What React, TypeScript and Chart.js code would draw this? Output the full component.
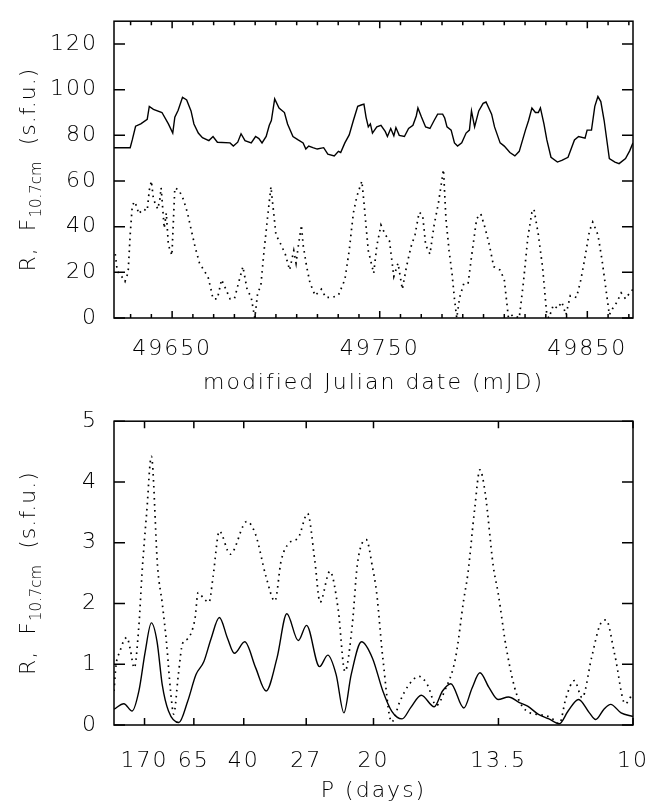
import React, { useEffect, useRef } from 'react';
import { Chart, registerables } from 'chart.js';
Chart.register(...registerables);

// ---------- Top panel: daily series vs modified Julian date ----------
const fluxMJD = [
  49622, 49629.8, 49630.8, 49632.4, 49634.9, 49638.0, 49639.0, 49641.0, 49645.1, 49648.2,
  49650.3, 49651.3, 49652.9, 49655.0, 49657.0, 49659.1, 49660.5, 49662.6, 49664.6, 49667.7,
  49669.7, 49671.8, 49677.9, 49679.5, 49681.6, 49683.2, 49685.1, 49688.1, 49690.2, 49691.8,
  49693.3, 49695.3, 49696.8, 49697.8, 49699.4, 49701.5, 49704.1, 49705.6, 49708.2, 49710.7,
  49713.1, 49714.4, 49715.8, 49717.8, 49719.9, 49723.0, 49725.0, 49728.1, 49730.1, 49731.2,
  49733.2, 49735.3, 49737.3, 49739.4, 49741.4, 49742.4, 49743.4, 49744.5, 49745.5, 49746.5,
  49748.6, 49750.6, 49752.7, 49753.7, 49755.3, 49756.8, 49757.8, 49759.4, 49761.9, 49763.9,
  49766.0, 49767.6, 49768.4, 49770.1, 49772.1, 49774.2, 49776.2, 49777.9, 49780.3, 49781.3,
  49782.4, 49784.4, 49786.0, 49787.5, 49789.5, 49791.6, 49793.2, 49794.2, 49795.7, 49797.7,
  49799.8, 49801.2, 49803.9, 49805.3, 49808.0, 49810.0, 49812.7, 49815.1, 49817.2, 49820.2,
  49821.7, 49823.3, 49825.0, 49826.4, 49827.4, 49829.1, 49830.5, 49832.5, 49835.6, 49837.7,
  49840.7, 49843.8, 49845.8, 49848.9, 49849.9, 49852.0, 49853.6, 49855.1, 49856.5, 49858.1,
  49860.6, 49863.3, 49865.3, 49868.4, 49870.4, 49872.0,
];
const fluxValues = [
  74.6, 74.6, 78, 84, 85, 87, 92.7, 91.4, 90, 85,
  81, 88, 91, 96.7, 95.5, 90.7, 85, 81, 79, 77.7,
  79.5, 77, 76.7, 75.3, 77, 80.7, 77.7, 76.7, 79.5, 78.6,
  76.7, 79.5, 84.4, 86.5, 96, 92, 90, 85, 79.5, 78,
  76.7, 74, 75.3, 74.6, 74, 74.6, 71.8, 71, 73, 72.5,
  76.7, 80.2, 86.5, 92.7, 93.4, 93.7, 88, 83.7, 85, 81,
  83.7, 84.4, 81.6, 79.5, 83, 79.8, 83.4, 80, 79.5, 83,
  84.4, 88.5, 92, 88, 83.7, 83, 86.5, 89.3, 89.3, 87.6,
  83.7, 82.3, 76.7, 75.3, 76.7, 81, 82.3, 90.7, 83.7, 90.7,
  94, 94.6, 89.3, 83.7, 76.7, 75.3, 72.5, 71, 73, 82.3,
  86.5, 92, 90, 90, 92, 85, 78, 70.4, 68.3, 69,
  70.4, 78, 79.5, 78.8, 82.3, 82.3, 92.7, 97, 94.8, 86.5,
  69.8, 68.3, 67.6, 69.8, 73.2, 76.7,
];

const sunspotMJD = [
  49622.6, 49623.6, 49625.7, 49627.3, 49628.8, 49629.8, 49630.8, 49631.8, 49632.9, 49633.9,
  49635.9, 49638.0, 49639.0, 49640.0, 49641.0, 49643.1, 49644.1, 49644.7, 49646.2, 49647.2,
  49648.2, 49649.9, 49651.3, 49653.3, 49655.4, 49657.4, 49659.1, 49661.1, 49663.2, 49665.2,
  49667.3, 49668.7, 49669.7, 49671.8, 49673.8, 49675.9, 49677.9, 49680.0, 49682.0, 49684.1,
  49686.1, 49688.1, 49689.8, 49691.2, 49692.7, 49694.3, 49695.9, 49697.6, 49698.4, 49700.0,
  49702.5, 49704.5, 49706.6, 49708.6, 49709.7, 49710.7, 49712.3, 49713.1, 49714.8, 49716.4,
  49718.9, 49721.9, 49724.0, 49727.1, 49730.1, 49733.2, 49735.3, 49737.3, 49739.0, 49741.4,
  49742.4, 49744.5, 49747.1, 49748.6, 49750.6, 49752.7, 49754.7, 49756.8, 49758.8, 49760.9,
  49762.9, 49765.0, 49767.0, 49769.0, 49770.7, 49772.1, 49774.2, 49776.2, 49778.3, 49780.7,
  49781.9, 49783.4, 49784.8, 49786.0, 49787.1, 49788.5, 49790.6, 49792.6, 49794.6, 49796.7,
  49798.7, 49800.8, 49802.8, 49804.9, 49808.0, 49810.0, 49811.0, 49812.0, 49814.1, 49817.2,
  49819.2, 49821.3, 49823.3, 49824.3, 49826.4, 49828.4, 49830.5, 49831.5, 49833.6, 49835.6,
  49837.7, 49839.7, 49841.8, 49844.8, 49846.9, 49848.9, 49851.0, 49852.6, 49855.1, 49857.1,
  49859.2, 49860.6, 49862.2, 49864.3, 49866.3, 49868.4, 49870.4, 49872.0,
];
const sunspotValues = [
  28, 20.4, 18.2, 16, 20, 36.5, 49, 51, 49, 45.6,
  47.7, 47, 56, 60, 52, 47.7, 52, 57, 39.3, 46,
  32, 27.4, 57, 56, 52, 46, 39, 31, 24, 21,
  18, 12.6, 8.4, 8.4, 16.8, 12.6, 8.4, 8.4, 15.4, 22.5,
  12.6, 9, 0, 11, 14, 29.5, 43.5, 57.5, 50.5, 36.5,
  32, 28, 21, 29.5, 24, 31, 40.7, 32, 22.5, 15.4,
  9.8, 12.6, 9, 9, 10, 16.8, 29.5, 46, 53.3, 60,
  50.5, 29.5, 19.6, 31.6, 40.7, 36.5, 33.7, 18.2, 24, 12.6,
  22.5, 31, 36.5, 46.3, 45, 32, 28, 40.7, 50.5, 65,
  43.5, 29.5, 19.6, 8.4, 0, 9, 15.4, 15.4, 29.5, 43.5,
  45.6, 39.3, 32, 22.5, 21, 16.8, 8.4, 0, 1.4, 0,
  15.4, 35, 46.3, 47.7, 36.5, 22.5, 1.4, 0, 5.6, 4.2,
  7, 1.4, 9.8, 9, 16.8, 26.7, 38, 42, 36.5, 25.3,
  11, 1.4, 4.2, 7, 11, 8.4, 11, 12.6,
];

const mjdTicks = [49650, 49750, 49850];
const mjdMinorTicks = [
  49630, 49640, 49660, 49670, 49680, 49690, 49700, 49710, 49720, 49730, 49740,
  49760, 49770, 49780, 49790, 49800, 49810, 49820, 49830, 49840, 49860, 49870,
];
const fluxAxisTicks = [0, 20, 40, 60, 80, 100, 120];

// ---------- Bottom panel: power vs frequency (1/P) ----------
const freqSolid = [
  0, 0.0019, 0.0035, 0.0048, 0.006, 0.0072, 0.0083, 0.0093, 0.0105, 0.0125,
  0.0142, 0.0158, 0.0173, 0.0187, 0.0203, 0.0219, 0.0232, 0.0252, 0.0273, 0.0293,
  0.0314, 0.0333, 0.0355, 0.0371, 0.0396, 0.0412, 0.0428, 0.0443, 0.0457, 0.0477,
  0.0498, 0.0518, 0.0535, 0.0555, 0.0572, 0.0592, 0.0617, 0.0633, 0.0649, 0.0674,
  0.069, 0.0705, 0.0723, 0.074, 0.076, 0.0781, 0.0797, 0.0817, 0.0838, 0.0858,
  0.0875, 0.0895, 0.0916, 0.0928, 0.0944, 0.0957, 0.0977, 0.1,
];
const powerSolid = [
  0.26, 0.35, 0.23, 0.56, 1.2, 1.68, 1.37, 0.66, 0.23, 0.04,
  0.39, 0.83, 1.04, 1.42, 1.77, 1.42, 1.18, 1.37, 0.94, 0.56,
  1.1, 1.83, 1.39, 1.64, 0.96, 1.15, 0.83, 0.2, 0.83, 1.37,
  1.1, 0.56, 0.23, 0.1, 0.29, 0.49, 0.3, 0.56, 0.68, 0.28,
  0.61, 0.86, 0.61, 0.42, 0.46, 0.37, 0.31, 0.18, 0.1, 0.02,
  0.23, 0.42, 0.2, 0.09, 0.26, 0.34, 0.2, 0.14,
];
const freqDotted = [
  0, 0.0004, 0.0011, 0.0019, 0.0025, 0.0031, 0.0039, 0.0048, 0.0054, 0.0063,
  0.0072, 0.0084, 0.0093, 0.0101, 0.0109, 0.0115, 0.0124, 0.0132, 0.0142, 0.0156,
  0.0162, 0.0174, 0.0183, 0.0191, 0.0203, 0.0224, 0.0256, 0.0273, 0.0293, 0.031,
  0.0322, 0.0338, 0.0355, 0.0373, 0.0387, 0.0397, 0.0416, 0.0432, 0.0445, 0.0459,
  0.0469, 0.0486, 0.0498, 0.0506, 0.0518, 0.0535, 0.0551, 0.0568, 0.0588, 0.0604,
  0.0621, 0.0637, 0.0658, 0.0674, 0.0682, 0.0695, 0.0705, 0.0715, 0.0731, 0.074,
  0.0756, 0.0776, 0.0801, 0.0821, 0.0842, 0.0858, 0.0871, 0.0887, 0.0902, 0.092,
  0.0936, 0.0948, 0.0965, 0.0985, 0.1,
];
const powerDotted = [
  0.56, 0.99, 1.2, 1.39, 1.44, 1.26, 0.94, 1.64, 2.5, 3.5,
  4.42, 2.6, 2.0, 1.37, 0.56, 0.18, 0.83, 1.34, 1.42, 1.75,
  2.18, 2.07, 2.02, 2.45, 3.19, 2.81, 3.35, 3.13, 2.44, 2.04,
  2.7, 3.0, 3.08, 3.48, 2.7, 2.02, 2.53, 1.9, 0.88, 1.64,
  2.65, 3.05, 2.6, 2.18, 1.1, 0.05, 0.39, 0.66, 0.8, 0.66,
  0.32, 0.56, 1.1, 2.07, 2.5, 3.56, 4.2, 3.83, 2.6, 2.18,
  1.26, 0.5, 0.2, 0.17, 0.12, 0.02, 0.45, 0.73, 0.45, 1.1,
  1.64, 1.73, 1.15, 0.35, 0.53,
];
const periodTickDays = [170, 65, 40, 27, 20, 13.5, 10];
const periodTickLabels = ['170', '65', '40', '27', '20', '13.5', '10'];
const powerAxisTicks = [0, 1, 2, 3, 4, 5];

const yTitleMain = 'R,  F';
const yTitleSub = '10.7cm';
const yTitleUnit = '  (s.f.u.)';

// ---------- styling ----------
const FONT = '"DejaVu Sans", "Liberation Sans", sans-serif';
const TICK_FONT = { family: FONT, size: 22, weight: '200' };
const SOLID = { borderColor: '#000', borderWidth: 1.4, pointRadius: 0, fill: false };
const DOTTED = { borderColor: '#000', borderWidth: 1.7, borderDash: [1.6, 4.4], pointRadius: 0, fill: false };

function idlFrame(xMinor: number[]) {
  return {
    id: 'idlFrame',
    beforeDraw(chart: any) {
      chart.ctx.letterSpacing = '2px';
    },
    afterDraw(chart: any) {
      const ctx = chart.ctx;
      const { left, right, top, bottom } = chart.chartArea;
      const xs = chart.scales.x;
      const ys = chart.scales.y;
      ctx.save();
      ctx.setLineDash([]);
      ctx.strokeStyle = '#000';
      ctx.lineWidth = 1.5;
      ctx.beginPath();
      const vt = (px: number, len: number) => {
        ctx.moveTo(px, bottom);
        ctx.lineTo(px, bottom - len);
        ctx.moveTo(px, top);
        ctx.lineTo(px, top + len);
      };
      xs.ticks.forEach((t: any) => vt(xs.getPixelForValue(t.value), 7));
      xMinor.forEach((v) => vt(xs.getPixelForValue(v), 4));
      ys.ticks.forEach((t: any) => {
        const py = ys.getPixelForValue(t.value);
        ctx.moveTo(left, py);
        ctx.lineTo(left + 11, py);
        ctx.moveTo(right, py);
        ctx.lineTo(right - 11, py);
      });
      ctx.stroke();
      ctx.strokeRect(left, top, right - left, bottom - top);

      // y-axis title with subscript
      ctx.translate(35, (top + bottom) / 2);
      ctx.rotate(-Math.PI / 2);
      ctx.fillStyle = '#000';
      ctx.textAlign = 'left';
      ctx.textBaseline = 'alphabetic';
      const mainFont = `200 22px ${FONT}`;
      const subFont = `200 15px ${FONT}`;
      ctx.font = mainFont;
      ctx.letterSpacing = '1px';
      const w1 = ctx.measureText(yTitleMain).width;
      const w3 = ctx.measureText(yTitleUnit).width;
      ctx.font = subFont;
      ctx.letterSpacing = '0px';
      const w2 = ctx.measureText(yTitleSub).width;
      let x = -(w1 + w2 + w3) / 2;
      ctx.font = mainFont;
      ctx.letterSpacing = '1px';
      ctx.fillText(yTitleMain, x, 0);
      x += w1;
      ctx.font = subFont;
      ctx.letterSpacing = '0px';
      ctx.fillText(yTitleSub, x, 6);
      x += w2;
      ctx.font = mainFont;
      ctx.letterSpacing = '1px';
      ctx.fillText(yTitleUnit, x, 0);
      ctx.restore();
    },
  };
}

function baseOptions(): any {
  return {
    responsive: false,
    animation: false,
    devicePixelRatio: 1,
    plugins: { legend: { display: false }, tooltip: { enabled: false } },
    elements: { line: { tension: 0 } },
  };
}

function topConfig(): any {
  const o = baseOptions();
  o.layout = { padding: { top: 6, right: 34, left: 0, bottom: 0 } };
  o.scales = {
    x: {
      type: 'linear',
      min: 49622,
      max: 49872,
      afterBuildTicks: (s: any) => { s.ticks = mjdTicks.map((v) => ({ value: v })); },
      afterFit: (s: any) => { s.height = 82; },
      grid: { display: false },
      border: { display: false },
      ticks: {
        autoSkip: false, maxRotation: 0, minRotation: 0, padding: 10, color: '#000', font: TICK_FONT,
        callback: (v: any) => String(v),
      },
      title: {
        display: true, text: 'modified Julian date (mJD)', color: '#000', font: TICK_FONT,
        padding: { top: 0, bottom: 4 },
      },
    },
    y: {
      type: 'linear',
      min: 0,
      max: 130,
      afterBuildTicks: (s: any) => { s.ticks = fluxAxisTicks.map((v) => ({ value: v })); },
      afterFit: (s: any) => { s.width = 114; },
      grid: { display: false },
      border: { display: false },
      ticks: { padding: 8, color: '#000', font: TICK_FONT, callback: (v: any) => String(v) },
    },
  };
  return {
    type: 'line',
    data: {
      datasets: [
        { ...SOLID, data: fluxMJD.map((d, i) => ({ x: d, y: fluxValues[i] })) },
        { ...DOTTED, data: sunspotMJD.map((d, i) => ({ x: d, y: sunspotValues[i] })) },
      ],
    },
    options: o,
    plugins: [idlFrame(mjdMinorTicks)],
  };
}

function bottomConfig(): any {
  const o = baseOptions();
  o.layout = { padding: { top: 19, right: 34, left: 0, bottom: 0 } };
  o.scales = {
    x: {
      type: 'linear',
      min: 0,
      max: 0.1,
      afterBuildTicks: (s: any) => { s.ticks = periodTickDays.map((p) => ({ value: 1 / p })); },
      afterFit: (s: any) => { s.height = 84; },
      grid: { display: false },
      border: { display: false },
      ticks: {
        autoSkip: false, maxRotation: 0, minRotation: 0, padding: 15, color: '#000', font: TICK_FONT,
        callback: (_v: any, i: number) => periodTickLabels[i],
      },
      title: {
        display: true, text: 'P (days)', color: '#000', font: TICK_FONT,
        padding: { top: 0, bottom: 5 },
      },
    },
    y: {
      type: 'linear',
      min: 0,
      max: 5,
      afterBuildTicks: (s: any) => { s.ticks = powerAxisTicks.map((v) => ({ value: v })); },
      afterFit: (s: any) => { s.width = 114; },
      grid: { display: false },
      border: { display: false },
      ticks: { padding: 8, color: '#000', font: TICK_FONT, callback: (v: any) => String(v) },
    },
  };
  return {
    type: 'line',
    data: {
      datasets: [
        { ...SOLID, cubicInterpolationMode: 'monotone', data: freqSolid.map((f, i) => ({ x: f, y: powerSolid[i] })) },
        { ...DOTTED, cubicInterpolationMode: 'monotone', data: freqDotted.map((f, i) => ({ x: f, y: powerDotted[i] })) },
      ],
    },
    options: o,
    plugins: [idlFrame([])],
  };
}

export default function App() {
  const topRef = useRef<HTMLCanvasElement>(null);
  const botRef = useRef<HTMLCanvasElement>(null);
  useEffect(() => {
    const c1 = new Chart(topRef.current as HTMLCanvasElement, topConfig());
    const c2 = new Chart(botRef.current as HTMLCanvasElement, bottomConfig());
    return () => {
      c1.destroy();
      c2.destroy();
    };
  }, []);
  return (
    <div style={{ position: 'absolute', left: 0, top: 0, width: 667, height: 809, background: '#fff' }}>
      <canvas ref={topRef} width={667} height={400}
        style={{ position: 'absolute', left: 0, top: 0, width: 667, height: 400 }} />
      <canvas ref={botRef} width={667} height={409}
        style={{ position: 'absolute', left: 0, top: 400, width: 667, height: 409 }} />
    </div>
  );
}
